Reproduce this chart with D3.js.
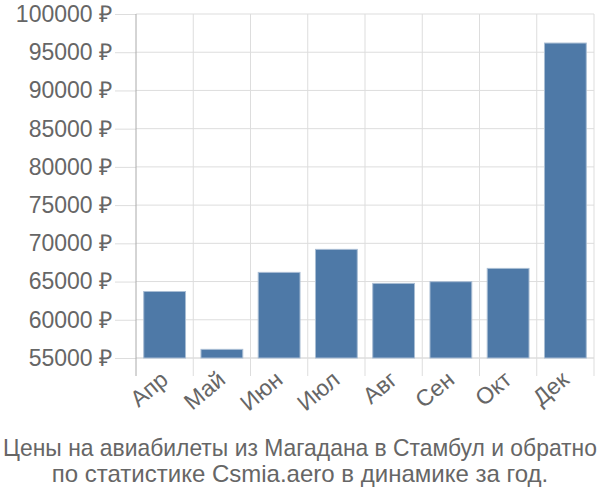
<!DOCTYPE html>
<html>
<head>
<meta charset="utf-8">
<script src="https://cdn.jsdelivr.net/npm/d3@7"></script>
<style>
  body { margin: 0; background: #fff; }
  text { font-family: "Liberation Sans", Arial, sans-serif; fill: #666; }
</style>
</head>
<body>
<div id="chart"></div>
<script>
// Data
const months = ['Апр', 'Май', 'Июн', 'Июл', 'Авг', 'Сен', 'Окт', 'Дек'];
const prices = [63700, 56130, 66200, 69210, 64760, 64980, 66720, 96200];
const yTicks = [55000, 60000, 65000, 70000, 75000, 80000, 85000, 90000, 95000, 100000];
const titleLines = [
  'Цены на авиабилеты из Магадана в Стамбул и обратно',
  'по статистике Csmia.aero в динамике за год.'
];

const W = 600, H = 500;
const plot = { left: 136, right: 594, top: 14, bottom: 358 };
const fontSize = '23px';

const svg = d3.select('#chart')
  .append('svg')
  .attr('width', W)
  .attr('height', H);

const x = d3.scaleBand()
  .domain(months)
  .range([plot.left, plot.right])
  .paddingInner(0.27)
  .paddingOuter(0.135);

const y = d3.scaleLinear()
  .domain([55000, 100000])
  .range([plot.bottom, plot.top]);

// Horizontal grid + y labels
const yAxis = svg.append('g')
  .attr('transform', `translate(${plot.left},0)`)
  .call(d3.axisLeft(y)
    .tickValues(yTicks)
    .tickSize(plot.left - 115)
    .tickPadding(3)
    .tickFormat(d => `${d} ₽`));
yAxis.select('.domain').remove();
yAxis.selectAll('line').attr('stroke', '#ddd').attr('stroke-width', 1);
yAxis.selectAll('text')
  .style('font-size', fontSize)
  .style('font-family', '"Liberation Sans", Arial, sans-serif')
  .attr('fill', '#666');

svg.append('g')
  .selectAll('line')
  .data(yTicks)
  .join('line')
  .attr('x1', plot.left)
  .attr('x2', plot.right)
  .attr('y1', d => y(d))
  .attr('y2', d => y(d))
  .attr('stroke', d => d === 55000 ? '#ccc' : '#ddd');

// Vertical grid at band boundaries
const bounds = months.map(m => x(m) - x.step() * x.paddingInner() / 2)
  .concat([plot.right]);
svg.append('g')
  .selectAll('line')
  .data(bounds)
  .join('line')
  .attr('x1', d => d)
  .attr('x2', d => d)
  .attr('y1', plot.top)
  .attr('y2', plot.bottom + 18)
  .attr('stroke', (d, i) => i === 0 ? '#aaa' : '#ddd');

// Bars
svg.append('g')
  .selectAll('rect')
  .data(prices)
  .join('rect')
  .attr('x', (d, i) => x(months[i]))
  .attr('y', d => y(d))
  .attr('width', x.bandwidth())
  .attr('height', d => plot.bottom - y(d))
  .attr('fill', '#4e79a7')
  .attr('stroke', '#a9bdd4')
  .attr('stroke-width', 1);

// X labels
svg.append('g')
  .selectAll('text')
  .data(months)
  .join('text')
  .attr('text-anchor', 'end')
  .attr('transform', d => `translate(${x(d) + x.bandwidth() / 2 + 5},${plot.bottom + 24}) rotate(-40)`)
  .style('font-size', fontSize)
  .text(d => d);

// Title (a line wider than the page is squeezed horizontally)
svg.append('g')
  .selectAll('text')
  .data(titleLines)
  .join('text')
  .attr('text-anchor', 'middle')
  .style('font-size', '24px')
  .text(d => d)
  .each(function (d, i) {
    const len = this.getComputedTextLength();
    const k = Math.min(1, 594 / len);
    d3.select(this).attr('transform', `translate(${W / 2},${456 + i * 26}) scale(${k},1)`);
  });
</script>
</body>
</html>
